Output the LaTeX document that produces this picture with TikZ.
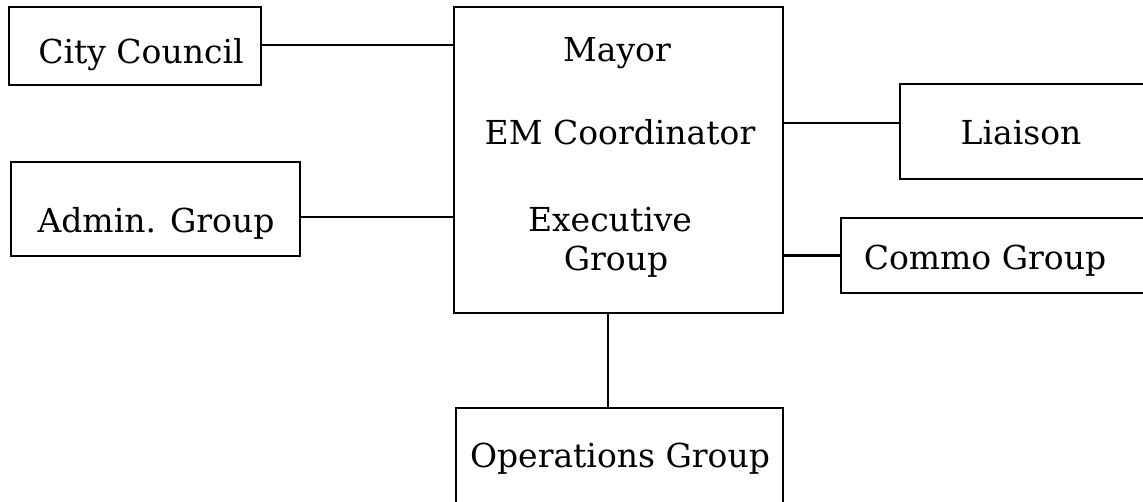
\documentclass[tikz,border=0pt]{standalone}
\usepackage{fontspec}
\setmainfont{DejaVu Serif}
\begin{document}
\begin{tikzpicture}[x=1pt,y=-1pt,
  box/.style={draw=black,line width=2.6pt,rectangle,inner sep=0pt},
  txt/.style={anchor=base,inner sep=0pt,font=\fontsize{33}{38}\selectfont},
  link/.style={draw=black,line width=2.6pt}]
\useasboundingbox (0,0) rectangle (1143,502);
\clip (0,0) rectangle (1143,502);
\fill[white] (0,0) rectangle (1143,502);
% boxes
\node[box,minimum width=252pt,minimum height=78pt] (cc) at (135,46) {};
\node[box,minimum width=289pt,minimum height=94pt] (admin) at (155.5,209) {};
\node[box,minimum width=329pt,minimum height=306pt] (center) at (618.5,160) {};
\node[box,minimum width=260pt,minimum height=95pt] (liaison) at (1030,131.5) {};
\node[box,minimum width=319pt,minimum height=75pt] (commo) at (1000.5,255.5) {};
\node[box,minimum width=327pt,minimum height=112pt] (ops) at (619.5,464) {};
% texts
\node[txt] (tcc) at (141,64) {City Council};
\node[txt] (tadmin) at (156,233) {Admin. Group};
\node[txt] (tmayor) at (617,62) {Mayor};
\node[txt] (tem) at (620,145) {EM Coordinator};
\node[txt] (texec) at (610,232) {Executive};
\node[txt] (tgroup) at (616,271) {Group};
\node[txt] (tliaison) at (1021,145) {Liaison};
\node[txt] (tcommo) at (985,270) {Commo Group};
\node[txt] (tops) at (620,467) {Operations Group};
% connectors
\draw[link] ([yshift=1pt]cc.east) -- ([yshift=1pt]cc.east -| center.west);
\draw[link] ([yshift=-8pt]admin.east) -- ([yshift=-8pt]admin.east -| center.west);
\draw[link] ([yshift=8.5pt]liaison.west) -- ([yshift=8.5pt]liaison.west -| center.east);
\draw[link] (commo.west) -- (commo.west -| center.east);
\draw[link] ([xshift=-10.5pt]center.south) -- ([xshift=-10.5pt]center.south |- ops.north);
\end{tikzpicture}
\end{document}
